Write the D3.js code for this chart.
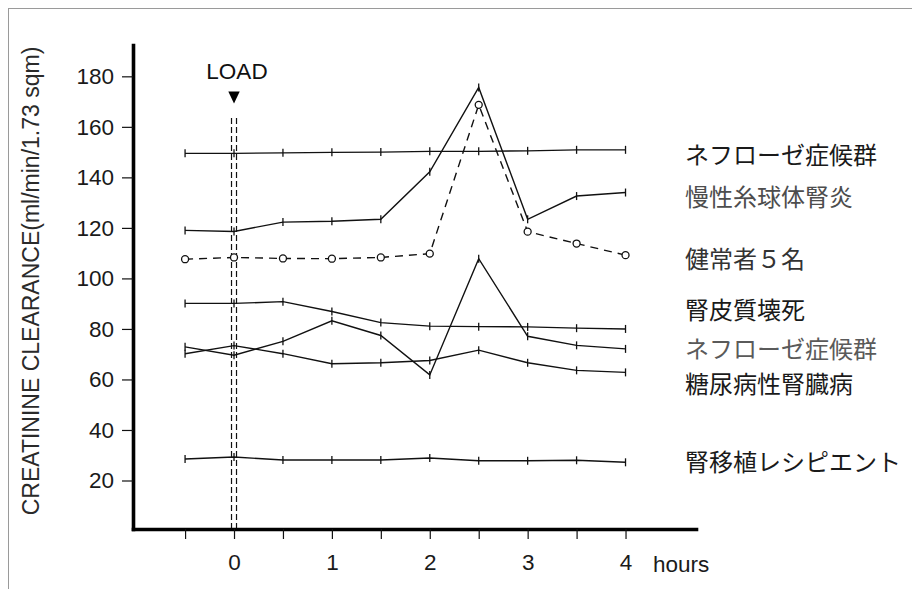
<!DOCTYPE html>
<html><head><meta charset="utf-8">
<script src="https://cdn.jsdelivr.net/npm/d3@7"></script>
<style>body{margin:0;background:#fff;} svg{display:block;}</style>
</head><body><svg id="chart" width="912" height="589"></svg>
<script>
// ---------- data ----------
const hours = [-0.5, 0, 0.5, 1, 1.5, 2, 2.5, 3, 3.5, 4];
const xTickValues = [-0.5, 0, 0.5, 1, 1.5, 2, 2.5, 3, 3.5, 4];
const xTickLabels = ["", "0", "", "1", "", "2", "", "3", "", "4"];
const yTickValues = [20, 40, 60, 80, 100, 120, 140, 160, 180];

const nephroticA   = [149.5, 149.5, 149.7, 149.9, 150.0, 150.3, 150.3, 150.5, 150.9, 150.9];
const chronicGN    = [119.0, 118.6, 122.3, 122.6, 123.4, 142.2, 175.6, 123.4, 132.6, 134.0];
const healthy5     = [107.6, 108.3, 107.9, 107.8, 108.3, 109.8, 168.7, 118.5, 113.8, 109.2];
const corticalNec  = [90.1, 90.1, 90.8, 86.9, 82.5, 81.1, 80.9, 80.8, 80.3, 80.0];
const nephroticB   = [72.9, 69.6, 75.1, 83.2, 77.4, 61.8, 107.8, 77.1, 73.5, 72.1];
const diabeticNeph = [70.2, 73.4, 70.2, 66.2, 66.6, 67.5, 71.6, 66.6, 63.6, 62.8];
const transplant   = [28.5, 29.3, 28.1, 28.1, 28.1, 28.9, 27.8, 27.8, 28.0, 27.2];

const seriesNames = ["ネフローゼ症候群", "慢性糸球体腎炎", "健常者５名", "腎皮質壊死",
                     "ネフローゼ症候群", "糖尿病性腎臓病", "腎移植レシピエント"];
const seriesValues = [nephroticA, chronicGN, healthy5, corticalNec, nephroticB, diabeticNeph, transplant];
const seriesDashed = [false, false, true, false, false, false, false];

const yAxisTitle = "CREATININE CLEARANCE(ml/min/1.73 sqm)";
const xAxisUnit = "hours";
const loadLabel = "LOAD";
const loadTime = 0;

// ---------- layout ----------
const labelY = [153, 195, 257, 308, 347, 382, 460];
const labelColor = ["#1a1a1a", "#4d4d4d", "#333", "#1a1a1a", "#5a5a5a", "#1a1a1a", "#1a1a1a"];
const fontLatin = "'Liberation Sans', Arial, Helvetica, sans-serif";
const fontCJK = "'Noto Sans CJK JP', 'Noto Sans', sans-serif";

const svg = d3.select("#chart");

// frame
svg.append("rect").attr("x", 8.5).attr("y", 8.5).attr("width", 930).attr("height", 620)
  .attr("fill", "none").attr("stroke", "#9a9a9a").attr("stroke-width", 1);

const x = d3.scaleLinear().domain([-1.032, 4.72]).range([133, 696]);
const y = d3.scaleLinear().domain([0.8, 192.4]).range([529, 45]);

// LOAD markers
const loadG = svg.append("g");
[-2.5, 2.5].forEach(off => {
  loadG.append("line")
    .attr("x1", x(loadTime) + off).attr("x2", x(loadTime) + off)
    .attr("y1", 118).attr("y2", y.range()[0])
    .attr("stroke", "#111").attr("stroke-width", 1.2).attr("stroke-dasharray", "6,3");
});
loadG.append("path")
  .attr("d", `M${x(loadTime) - 5.7},91.5 L${x(loadTime) + 5.7},91.5 L${x(loadTime)},103.5 Z`)
  .attr("fill", "#000");
loadG.append("text").attr("x", x(loadTime) + 3).attr("y", 78.5)
  .attr("text-anchor", "middle").attr("font-family", fontLatin).attr("font-size", 22.5)
  .attr("fill", "#111").text(loadLabel);

// axes
const yAxis = d3.axisLeft(y).tickValues(yTickValues).tickSize(11).tickSizeOuter(0).tickPadding(8);
const yg = svg.append("g").attr("transform", `translate(${x.range()[0]},0)`).call(yAxis);
yg.select(".domain").attr("stroke", "#000").attr("stroke-width", 3.6).attr("stroke-linecap", "square");
yg.selectAll(".tick line").attr("stroke", "#111").attr("stroke-width", 1.2);
yg.selectAll(".tick text").attr("font-family", fontLatin).attr("font-size", 22.5).attr("fill", "#1a1a1a");

const xAxis = d3.axisBottom(x).tickValues(xTickValues).tickSize(10).tickSizeOuter(0).tickPadding(15)
  .tickFormat((d, i) => xTickLabels[i]);
const xg = svg.append("g").attr("transform", `translate(0,${y.range()[0]})`).call(xAxis);
xg.select(".domain").attr("stroke", "#000").attr("stroke-width", 3.6).attr("stroke-linecap", "square");
xg.selectAll(".tick line").attr("stroke", "#111").attr("stroke-width", 1.2);
xg.selectAll(".tick text").attr("font-family", fontLatin).attr("font-size", 22.5).attr("fill", "#1a1a1a");

svg.append("text").attr("x", 653).attr("y", 571.5)
  .attr("font-family", fontLatin).attr("font-size", 22.5).attr("fill", "#1a1a1a").text(xAxisUnit);

// y title
svg.append("text")
  .attr("transform", `translate(39,${281}) rotate(-90)`)
  .attr("text-anchor", "middle").attr("font-family", fontLatin).attr("font-size", 23)
  .attr("fill", "#2a2a2a").text(yAxisTitle);

// series
const line = d3.line().x((d, i) => x(hours[i])).y(d => y(d));
seriesValues.forEach((vals, si) => {
  const g = svg.append("g");
  g.append("path").attr("d", line(vals)).attr("fill", "none")
    .attr("stroke", "#111").attr("stroke-width", 1.4)
    .attr("stroke-dasharray", seriesDashed[si] ? "8,6" : null);
  if (seriesDashed[si]) {
    g.selectAll("circle").data(vals).join("circle")
      .attr("cx", (d, i) => x(hours[i])).attr("cy", d => y(d)).attr("r", 3.5)
      .attr("fill", "#fff").attr("stroke", "#111").attr("stroke-width", 1.3);
  } else {
    g.selectAll("line").data(vals).join("line")
      .attr("x1", (d, i) => x(hours[i])).attr("x2", (d, i) => x(hours[i]))
      .attr("y1", d => y(d) - 4).attr("y2", d => y(d) + 4)
      .attr("stroke", "#111").attr("stroke-width", 1.3);
  }
});

// series labels
svg.append("g").selectAll("text").data(seriesNames).join("text")
  .attr("x", 685).attr("y", (d, i) => labelY[i])
  .attr("dominant-baseline", "central")
  .attr("font-family", fontCJK).attr("font-size", 24)
  .attr("fill", (d, i) => labelColor[i]).text(d => d);
</script>
</body></html>
